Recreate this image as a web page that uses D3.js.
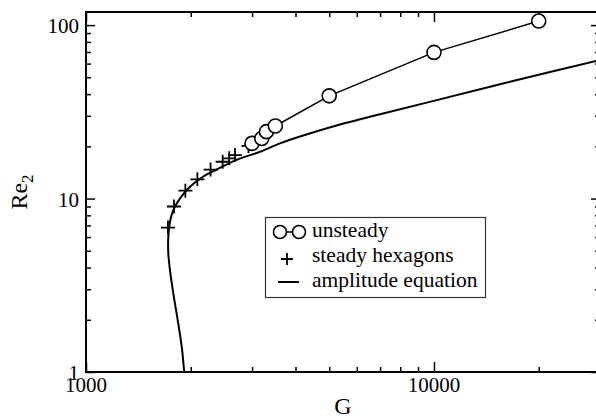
<!DOCTYPE html>
<html lang="en">
<head>
    <meta charset="UTF-8">
    <title>Re2 vs G</title>
    <script src="https://d3js.org/d3.v7.min.js"></script>
    <style>
        body { margin: 0; background: #fff; }
    </style>
</head>
<body>
    <div id="chart"></div>
    <script>
        // unsteady (open circles joined by a line)
        const unsteadyG = [3000, 3200, 3300, 3500, 5000, 10000, 20000];
        const unsteadyRe = [20.8, 22.2, 24.3, 26.2, 39.1, 69.6, 105.5];

        // steady hexagons (plus markers)
        const hexG = [1720, 1790, 1930, 2090, 2280, 2470, 2580, 2680, 2930];
        const hexRe = [6.8, 9.0, 11.1, 12.9, 14.7, 16.3, 17.05, 17.8, 20.1];

        // amplitude equation curve
        const ampG = [1915, 1884, 1834, 1782, 1743, 1724, 1724, 1743, 1782, 1863, 1990, 2174, 2375, 2711, 3162, 3610, 4120, 5370, 7000, 10050, 17100, 30000];
        const ampRe = [1, 1.4, 2.0, 2.84, 3.87, 4.83, 6.02, 7.35, 8.58, 10.03, 11.7, 13.4, 14.7, 16.7, 18.6, 20.8, 22.77, 26.7, 30.6, 36.7, 47.9, 62.9];

        const xMajor = [1000, 10000];
        const xMinor = [2000, 3000, 4000, 5000, 6000, 7000, 8000, 9000, 20000, 30000];
        const yMajor = [1, 10, 100];
        const yMinor = [2, 3, 4, 5, 6, 7, 8, 9, 20, 30, 40, 50, 60, 70, 80, 90];

        const legendLabels = ["unsteady", "steady hexagons", "amplitude equation"];

        const width = 596, height = 418;
        const margin = { top: 12, right: -4, bottom: 46, left: 86 };
        const serif = "'Liberation Serif', 'Times New Roman', Times, 'DejaVu Serif', serif";

        const svg = d3.select("#chart").append("svg")
            .attr("width", width)
            .attr("height", height)
            .attr("font-family", serif);

        const x = d3.scaleLog()
            .domain([1000, 30000])
            .range([margin.left, width - margin.right]);

        const y = d3.scaleLog()
            .domain([1, 119])
            .range([height - margin.bottom, margin.top]);

        const x0 = margin.left, x1 = width - margin.right;
        const y0 = height - margin.bottom, y1 = margin.top;

        // ticks, all pointing inwards
        function ticks(axisFn, pos, vals, size) {
            const g = svg.append("g")
                .attr("transform", pos)
                .call(axisFn.tickValues(vals).tickSize(size).tickFormat(""));
            g.select(".domain").remove();
            g.selectAll(".tick line").attr("stroke", "#000").attr("stroke-width", 1.5);
        }
        ticks(d3.axisBottom(x), `translate(0,${y0})`, xMajor, -10);
        ticks(d3.axisBottom(x), `translate(0,${y0})`, xMinor, -5);
        ticks(d3.axisTop(x), `translate(0,${y1})`, xMajor, -10);
        ticks(d3.axisTop(x), `translate(0,${y1})`, xMinor, -5);
        ticks(d3.axisLeft(y), `translate(${x0},0)`, yMajor, -9);
        ticks(d3.axisLeft(y), `translate(${x0},0)`, yMinor, -5);
        ticks(d3.axisRight(y), `translate(${x1},0)`, yMajor, -9);
        ticks(d3.axisRight(y), `translate(${x1},0)`, yMinor, -5);

        // frame
        svg.append("rect")
            .attr("x", x0).attr("y", y1)
            .attr("width", x1 - x0).attr("height", y0 - y1)
            .attr("fill", "none")
            .attr("stroke", "#000")
            .attr("stroke-width", 2);

        // tick labels
        svg.selectAll(".xlab").data(xMajor).enter().append("text")
            .attr("x", d => x(d))
            .attr("y", y0 + 20)
            .attr("text-anchor", "middle")
            .attr("font-family", serif)
            .style("font-size", "21px")
            .text(d => d);

        svg.selectAll(".ylab").data(yMajor).enter().append("text")
            .attr("x", x0 - 7)
            .attr("y", d => y(d) + 8)
            .attr("text-anchor", "end")
            .attr("font-family", serif)
            .style("font-size", "21px")
            .text(d => d);

        // axis titles
        svg.append("text")
            .attr("x", (x0 + 600) / 2)
            .attr("y", 414)
            .attr("text-anchor", "middle")
            .attr("font-family", serif)
            .style("font-size", "24px")
            .text("G");

        const yt = svg.append("text")
            .attr("transform", `translate(27,${(y0 + y1) / 2}) rotate(-90)`)
            .attr("text-anchor", "middle")
            .attr("font-family", serif)
            .style("font-size", "24px");
        yt.append("tspan").text("Re");
        yt.append("tspan").attr("dy", 6).style("font-size", "17px").text("2");

        // amplitude equation curve
        const ampData = ampG.map((g, i) => [g, ampRe[i]]);
        svg.append("path")
            .datum(ampData)
            .attr("fill", "none")
            .attr("stroke", "#000")
            .attr("stroke-width", 2)
            .attr("d", d3.line().x(d => x(d[0])).y(d => y(d[1])).curve(d3.curveCatmullRom));

        // steady hexagons
        const plus = "M-7,0H7M0,-7V7";
        svg.selectAll(".hex").data(hexG.map((g, i) => [g, hexRe[i]])).enter().append("path")
            .attr("d", plus)
            .attr("transform", d => `translate(${x(d[0])},${y(d[1])})`)
            .attr("stroke", "#000")
            .attr("stroke-width", 1.8);

        // unsteady
        const unData = unsteadyG.map((g, i) => [g, unsteadyRe[i]]);
        svg.append("path")
            .datum(unData)
            .attr("fill", "none")
            .attr("stroke", "#000")
            .attr("stroke-width", 1.5)
            .attr("d", d3.line().x(d => x(d[0])).y(d => y(d[1])));
        svg.selectAll(".un").data(unData).enter().append("circle")
            .attr("cx", d => x(d[0]))
            .attr("cy", d => y(d[1]))
            .attr("r", 7)
            .attr("fill", "#fff")
            .attr("stroke", "#000")
            .attr("stroke-width", 1.6);

        // legend
        const lg = svg.append("g");
        lg.append("rect")
            .attr("x", 265.5).attr("y", 217.5)
            .attr("width", 220).attr("height", 80)
            .attr("fill", "#fff")
            .attr("stroke", "#333")
            .attr("stroke-width", 1.2);
        lg.append("line")
            .attr("x1", 280).attr("x2", 299).attr("y1", 232).attr("y2", 232)
            .attr("stroke", "#000").attr("stroke-width", 1.5);
        [280, 299].forEach(cx => lg.append("circle")
            .attr("cx", cx).attr("cy", 232).attr("r", 6.5)
            .attr("fill", "#fff").attr("stroke", "#000").attr("stroke-width", 1.6));
        lg.append("path")
            .attr("d", "M-6,0H6M0,-6V6")
            .attr("transform", "translate(287,259)")
            .attr("stroke", "#000").attr("stroke-width", 1.8);
        lg.append("line")
            .attr("x1", 278).attr("x2", 299).attr("y1", 282).attr("y2", 282)
            .attr("stroke", "#000").attr("stroke-width", 2);
        lg.selectAll(".ltext").data(legendLabels).enter().append("text")
            .attr("x", 312)
            .attr("y", (d, i) => 237 + i * 25)
            .attr("font-family", serif)
            .style("font-size", "21.5px")
            .text(d => d);
    </script>
</body>
</html>
